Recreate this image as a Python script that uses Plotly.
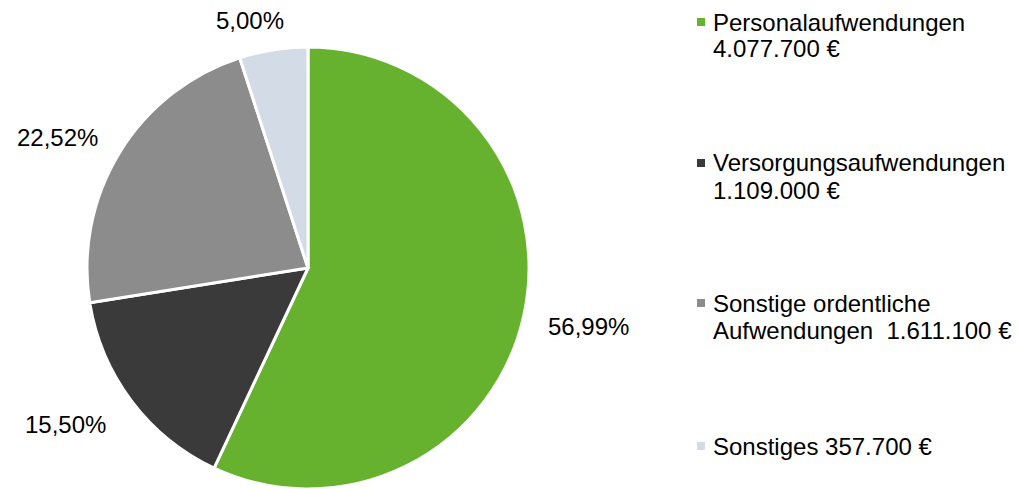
import plotly.graph_objects as go

categories = ["Personalaufwendungen", "Versorgungsaufwendungen",
              "Sonstige ordentliche Aufwendungen", "Sonstiges"]
values = [4077700, 1109000, 1611100, 357700]
colors = ["#66B22F", "#3A3A3A", "#8C8C8C", "#D3DCE6"]
legend_lines = [["Personalaufwendungen", "4.077.700 €"],
                ["Versorgungsaufwendungen", "1.109.000 €"],
                ["Sonstige ordentliche", "Aufwendungen&nbsp;&nbsp;1.611.100 €"],
                ["Sonstiges 357.700 €"]]

W, H = 1019, 489
FONT = "Liberation Sans, Arial, sans-serif"
FS = 24

fig = go.Figure(go.Pie(
    labels=categories, values=values, sort=False, direction="clockwise",
    rotation=0, textinfo="none", hoverinfo="label+value+percent",
    marker=dict(colors=colors, line=dict(color="white", width=3)),
    domain=dict(x=[86 / W, 530 / W], y=[0, 1 - 47 / H]),
    showlegend=False,
))

total = sum(values)
def pct(v):
    return f"{v / total * 100:.2f}".replace(".", ",") + "%"

label_pos = [(588, 326), (65, 424), (57, 137), (250, 20)]
annotations = []
for v, (px, py) in zip(values, label_pos):
    annotations.append(dict(x=px / W, y=1 - py / H, xref="paper", yref="paper",
                            text=pct(v), showarrow=False, xanchor="center",
                            yanchor="middle", font=dict(family=FONT, size=FS, color="black")))

legend_first = [22, 163, 303, 446]
LINE = 27
shapes = []
for lines, c, y1 in zip(legend_lines, colors, legend_first):
    for i, txt in enumerate(lines):
        annotations.append(dict(x=711 / W, y=1 - (y1 + i * LINE) / H, xref="paper", yref="paper",
                                text=txt, showarrow=False, xanchor="left", yanchor="middle",
                                align="left", font=dict(family=FONT, size=FS, color="black")))
    shapes.append(dict(type="rect", xref="paper", yref="paper",
                       x0=697 / W, x1=705 / W, y0=1 - (y1 + 4) / H, y1=1 - (y1 - 4) / H,
                       fillcolor=c, line=dict(width=0)))

fig.update_layout(width=W, height=H, margin=dict(l=0, r=0, t=0, b=0),
                  paper_bgcolor="white", plot_bgcolor="white",
                  annotations=annotations, shapes=shapes,
                  font=dict(family=FONT, size=FS))
fig.write_html("out.html", config={"displayModeBar": False},
               post_script="document.body.style.margin='0';")
